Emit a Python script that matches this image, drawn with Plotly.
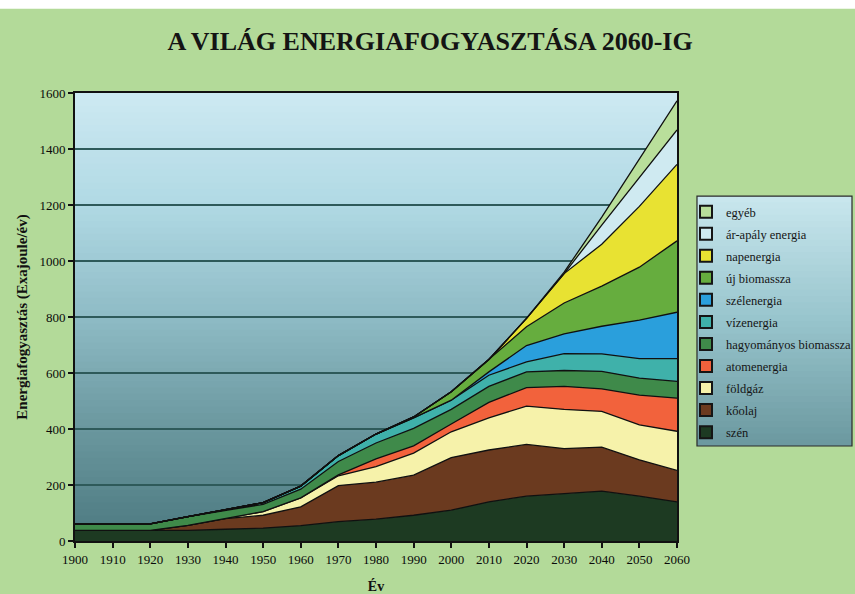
import plotly.graph_objects as go

# ---------------- data (Exajoule/év, thickness of each layer) ----------------
years = [1900, 1910, 1920, 1930, 1940, 1950, 1960, 1970, 1980, 1990,
         2000, 2010, 2020, 2030, 2040, 2050, 2060]

szen        = [38, 38, 38, 38, 42, 46, 55, 69, 78, 92, 110, 140, 160, 168, 178, 160, 140]
koolaj      = [0, 0, 0, 18, 38, 46, 67, 129, 132, 143, 188, 185, 185, 162, 157, 130, 112]
foldgaz     = [0, 0, 0, 0, 0, 13, 32, 35, 56, 79, 92, 115, 137, 140, 128, 125, 140]
atom        = [0, 0, 0, 0, 0, 0, 0, 3, 27, 26, 28, 55, 66, 82, 80, 106, 118]
hagy_bio    = [23, 23, 23, 31, 30, 26, 31, 48, 57, 62, 52, 57, 56, 57, 63, 61, 60]
viz         = [0, 0, 0, 0, 2, 6, 11, 21, 32, 38, 33, 40, 36, 60, 62, 69, 81]
szel        = [0, 0, 0, 0, 0, 0, 0, 0, 0, 0, 0, 12, 58, 71, 99, 138, 166]
uj_bio      = [0, 0, 0, 0, 0, 0, 0, 0, 0, 3, 30, 44, 67, 110, 143, 189, 255]
nap         = [0, 0, 0, 0, 0, 0, 0, 0, 0, 0, 0, 0, 30, 105, 150, 217, 273]
arapaly     = [0, 0, 0, 0, 0, 0, 0, 0, 0, 0, 0, 0, 0, 0, 68, 103, 123]
egyeb       = [0, 0, 0, 0, 0, 0, 0, 0, 0, 0, 0, 0, 0, 5, 29, 66, 104]

series_names = ["szén", "kőolaj", "földgáz", "atomenergia", "hagyományos biomassza",
                "vízenergia", "szélenergia", "új biomassza", "napenergia",
                "ár-apály energia", "egyéb"]
series_values = [szen, koolaj, foldgaz, atom, hagy_bio, viz, szel, uj_bio, nap, arapaly, egyeb]
series_colors = ["#1d3a22", "#6b3a1f", "#f6f2aa", "#f2623c", "#3f8a4a",
                 "#3fb1aa", "#2a9fdc", "#66ad3e", "#e8e232", "#cfeaf1", "#b9df9b"]

title_text = "A VILÁG ENERGIAFOGYASZTÁSA 2060-IG"
x_title = "Év"
y_title = "Energiafogyasztás (Exajoule/év)"

SERIF = "Liberation Serif, Times New Roman, serif"

fig = go.Figure()

# stacked areas
for name, vals, col in zip(series_names, series_values, series_colors):
    fig.add_trace(go.Scatter(
        x=years, y=vals, name=name, stackgroup="one", mode="lines",
        line=dict(color="#101010", width=1.3), fillcolor=col,
        legendgroup=name, showlegend=False,
        hovertemplate="%{x}: %{y} EJ<extra>" + name + "</extra>"))

# legend entries (square symbols), top to bottom: egyéb ... szén
for name, col in reversed(list(zip(series_names, series_colors))):
    fig.add_trace(go.Scatter(
        x=[None], y=[None], mode="markers", name=name, legendgroup=name,
        marker=dict(symbol="square", size=9, color=col,
                    line=dict(color="#151515", width=1)),
        showlegend=True))


def lerp_color(stops, t):
    for (t0, c0), (t1, c1) in zip(stops[:-1], stops[1:]):
        if t0 <= t <= t1:
            f = (t - t0) / (t1 - t0) if t1 > t0 else 0
            a = [int(c0[i:i + 2], 16) for i in (1, 3, 5)]
            b = [int(c1[i:i + 2], 16) for i in (1, 3, 5)]
            return "rgb(%d,%d,%d)" % tuple(round(a[k] + (b[k] - a[k]) * f) for k in range(3))
    return stops[-1][1]


shapes = []
# white strip at very top of page
shapes.append(dict(type="rect", xref="paper", yref="paper", x0=-0.2, x1=1.3,
                   y0=1.188, y1=1.25, fillcolor="#ffffff", line=dict(width=0), layer="below"))

# plot-area gradient
plot_stops = [(0.0, "#4c7980"), (0.25, "#6a979e"), (0.5, "#8ebbc5"),
              (0.75, "#b0d9e4"), (1.0, "#cde9f2")]
N = 70
for i in range(N):
    t0, t1 = i / N, (i + 1) / N
    shapes.append(dict(type="rect", xref="paper", yref="paper", x0=0, x1=1,
                       y0=t0, y1=min(1, t1 + 0.003),
                       fillcolor=lerp_color(plot_stops, (t0 + t1) / 2),
                       line=dict(width=0), layer="below"))

# legend box gradient + border
lx0, lx1, ly0, ly1 = 1.0332, 1.2907, 0.212, 0.770
leg_stops = [(0.0, "#6b989f"), (0.5, "#97c4cc"), (1.0, "#c9e7ee")]
M = 40
for i in range(M):
    t0, t1 = i / M, (i + 1) / M
    shapes.append(dict(type="rect", xref="paper", yref="paper", x0=lx0, x1=lx1,
                       y0=ly0 + (ly1 - ly0) * t0, y1=ly0 + (ly1 - ly0) * min(1, t1 + 0.004),
                       fillcolor=lerp_color(leg_stops, (t0 + t1) / 2),
                       line=dict(width=0), layer="below"))
shapes.append(dict(type="rect", xref="paper", yref="paper", x0=lx0, x1=lx1,
                   y0=ly0, y1=ly1, fillcolor="rgba(0,0,0,0)",
                   line=dict(color="#2a2a2a", width=1.2), layer="below"))

fig.update_layout(
    width=855, height=594,
    margin=dict(l=75, r=178, t=93, b=53, autoexpand=False),
    paper_bgcolor="#b3da99",
    plot_bgcolor="rgba(0,0,0,0)",
    font=dict(family=SERIF, size=13, color="#111111"),
    title=dict(text="<b>" + title_text + "</b>", x=0.503, xanchor="center",
               y=1 - 41 / 594, yanchor="middle",
               font=dict(family=SERIF, size=26, color="#141414")),
    showlegend=True,
    legend=dict(xref="container", yref="container",
                x=686 / 855, xanchor="left", y=1 - 197 / 594, yanchor="top",
                bgcolor="rgba(0,0,0,0)", borderwidth=0,
                font=dict(family=SERIF, size=12.5, color="#151515"),
                traceorder="grouped", tracegroupgap=2.8, itemsizing="constant"),
    shapes=shapes,
    xaxis=dict(range=[1900, 2060], tickmode="array", tickvals=years,
               showgrid=False, zeroline=False, automargin=False,
               showline=True, linecolor="#111111", linewidth=2, mirror=True,
               ticks="outside", ticklen=5, tickwidth=2, tickcolor="#111111",
               tickfont=dict(family=SERIF, size=13, color="#0a0a0a"),
               title=dict(text="<b>" + x_title + "</b>", standoff=18,
                          font=dict(family=SERIF, size=14, color="#111111"))),
    yaxis=dict(range=[0, 1600], dtick=200, tick0=0,
               showgrid=True, gridcolor="#2e5a5a", gridwidth=1.5, zeroline=False,
               automargin=False,
               showline=True, linecolor="#111111", linewidth=2, mirror=True,
               ticks="outside", ticklen=5, tickwidth=2, tickcolor="#111111",
               tickfont=dict(family=SERIF, size=13, color="#0a0a0a"),
               title=dict(text="<b>" + y_title + "</b>", standoff=8,
                          font=dict(family=SERIF, size=15, color="#111111"))),
)

fig.write_html("out.html",
               config={"displayModeBar": False},
               post_script="document.body.style.margin='0';"
                           "document.body.style.overflow='hidden';")
